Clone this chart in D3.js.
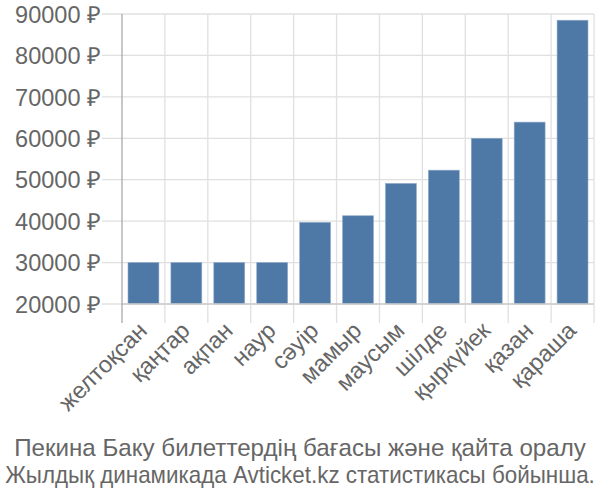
<!DOCTYPE html>
<html><head><meta charset="utf-8">
<script src="https://cdn.jsdelivr.net/npm/d3@7"></script>
<style>body{margin:0;background:#fff}svg text{font-family:"Liberation Sans",Arial,sans-serif;fill:#666}</style>
</head><body>
<svg id="c" width="600" height="500"></svg>
<script>
const categories = ["желтоқсан","қаңтар","ақпан","наур","сәуір","мамыр","маусым","шілде","қыркүйек","қазан","қараша"];
const values = [30000,30000,30000,30000,39700,41300,49100,52300,60000,63900,88500];
const yTicks = [20000,30000,40000,50000,60000,70000,80000,90000];
const titleLines = ["Пекина Баку билеттердің бағасы және қайта оралу","Жылдық динамикада Avticket.kz статистикасы бойынша."];

const svg = d3.select("#c");
const L=122, R=594, T=14, B=304;
const x = d3.scaleBand().domain(categories).range([L,R]).paddingInner(0.28).paddingOuter(0.14);
const xb = d3.scaleBand().domain(categories).range([L,R]);
const y = d3.scaleLinear().domain([20000,90000]).range([B,T]);

svg.append("g").selectAll("line").data(yTicks).join("line")
  .attr("x1",102).attr("x2",R).attr("y1",d=>y(d)).attr("y2",d=>y(d))
  .attr("stroke","#e0e0e0").attr("stroke-width",1.3);
const bounds = categories.map(c=>xb(c)).concat([R]);
svg.append("g").selectAll("line").data(bounds.slice(1)).join("line")
  .attr("x1",d=>d).attr("x2",d=>d).attr("y1",T).attr("y2",323)
  .attr("stroke","#e0e0e0").attr("stroke-width",1.3);

svg.append("g").selectAll("rect").data(values).join("rect")
  .attr("x",(d,i)=>x(categories[i])).attr("width",x.bandwidth())
  .attr("y",d=>y(d)).attr("height",d=>B-y(d))
  .attr("fill","#4e79a7").attr("stroke","#8fa9c9").attr("stroke-width",0.6);

svg.append("line").attr("x1",L).attr("x2",R).attr("y1",B).attr("y2",B).attr("stroke","#ccc").attr("stroke-width",1.3);
svg.append("line").attr("x1",L).attr("x2",L).attr("y1",T).attr("y2",323).attr("stroke","#aaa").attr("stroke-width",1.3);

svg.append("g").selectAll("text").data(yTicks).join("text")
  .attr("x",101).attr("y",d=>y(d)).attr("dy","0.37em").attr("text-anchor","end")
  .style("font-size","23.5px").text(d=>d+" ₽");

svg.append("g").selectAll("text").data(categories).join("text")
  .attr("text-anchor","end")
  .attr("transform",d=>`translate(${xb(d)+xb.bandwidth()/2+5},${332}) rotate(-45)`)
  .style("font-size","23.5px").text(d=>d);

const tl = [572, 590];
svg.append("g").selectAll("text").data(titleLines).join("text")
  .attr("text-anchor","middle")
  .style("font-size","24px").text(d=>d)
  .each(function(d,i){
    const w = this.getComputedTextLength();
    const s = tl[i]/w;
    d3.select(this).attr("transform",`translate(300,${456+i*27}) scale(${s},1)`);
  });
</script>
</body></html>
